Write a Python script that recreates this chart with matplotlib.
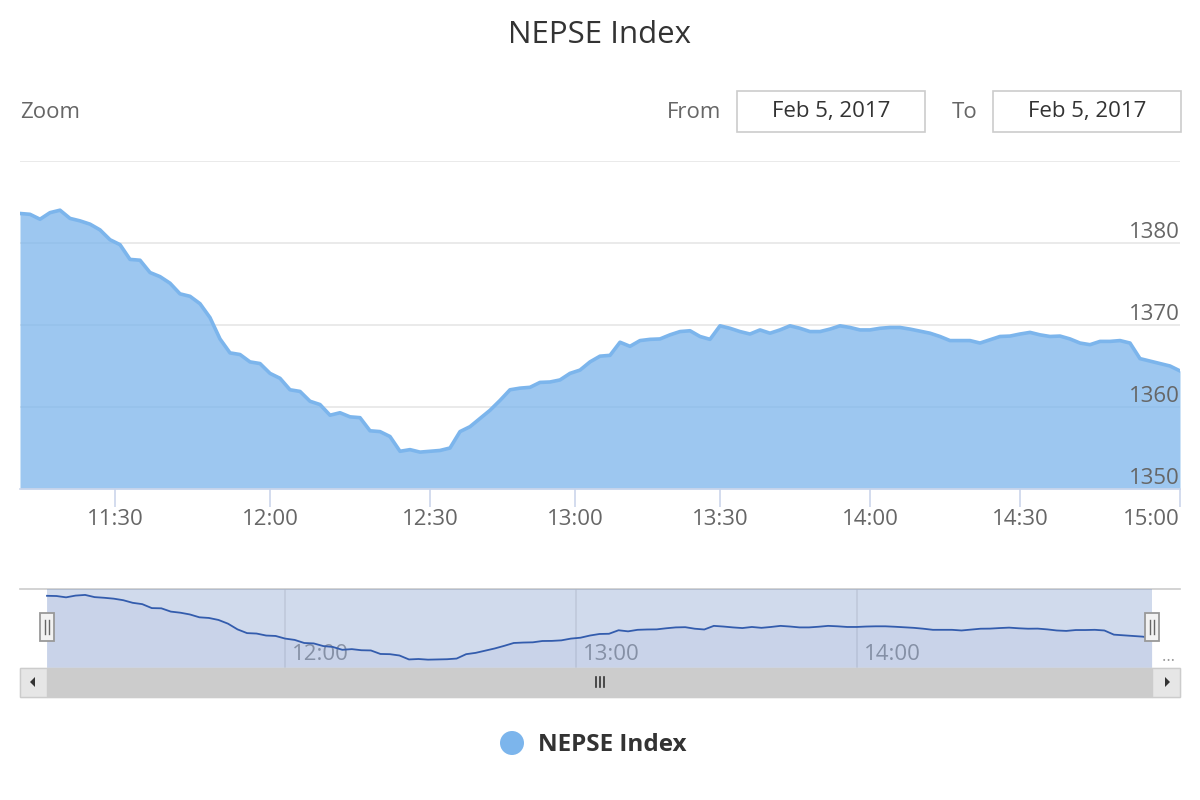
import numpy as np
import matplotlib
matplotlib.use("Agg")
import matplotlib.pyplot as plt
from matplotlib.patches import Rectangle, Circle, Polygon
import matplotlib.transforms as mtransforms

plt.rcParams['font.family'] = ['Open Sans', 'DejaVu Sans']

# ---------------- data ----------------
title = "NEPSE Index"
series_name = "NEPSE Index"
date_from = "Feb 5, 2017"
date_to = "Feb 5, 2017"

times = [
    "11:12", "11:14", "11:16", "11:18", "11:19", "11:21", "11:23", "11:25", "11:27", "11:29",
    "11:31", "11:33", "11:35", "11:37", "11:39", "11:41", "11:43", "11:45", "11:47", "11:49",
    "11:51", "11:53", "11:55", "11:56", "11:58",
    "12:00", "12:02", "12:04", "12:06", "12:08", "12:10", "12:12", "12:13", "12:15", "12:17",
    "12:19", "12:21", "12:23", "12:25", "12:27", "12:28",
    "12:30", "12:32", "12:34", "12:37", "12:39", "12:41", "12:43", "12:45", "12:47", "12:49",
    "12:51", "12:53", "12:55", "12:57", "12:59",
    "13:01", "13:03", "13:05", "13:07", "13:09", "13:11", "13:13", "13:16", "13:18", "13:20",
    "13:22", "13:24", "13:26", "13:28", "13:30",
    "13:32", "13:34", "13:36", "13:38", "13:40", "13:42", "13:44", "13:46", "13:48", "13:50",
    "13:52", "13:54", "13:56", "13:58",
    "14:00", "14:02", "14:04", "14:06", "14:08", "14:10", "14:12", "14:14", "14:16", "14:18",
    "14:20", "14:22", "14:24", "14:26", "14:28", "14:30",
    "14:32", "14:33", "14:35", "14:37", "14:39", "14:41", "14:43", "14:45", "14:47", "14:49",
    "14:51", "14:52", "14:54", "14:56", "14:58", "15:00",
]

values = [
    1383.6, 1383.5, 1382.9, 1383.7, 1384.0, 1383.0, 1382.7, 1382.3, 1381.6, 1380.4,
    1379.8, 1378.0, 1377.9, 1376.4, 1375.9, 1375.1, 1373.8, 1373.5, 1372.6, 1370.9,
    1368.3, 1366.6, 1366.4, 1365.5, 1365.3,
    1364.1, 1363.5, 1362.1, 1361.9, 1360.7, 1360.3, 1359.0, 1359.3, 1358.8, 1358.7,
    1357.1, 1357.0, 1356.4, 1354.6, 1354.8, 1354.5,
    1354.6, 1354.7, 1355.0, 1357.0, 1357.6, 1358.6, 1359.6, 1360.8, 1362.1, 1362.3,
    1362.4, 1363.0, 1363.05, 1363.3, 1364.1,
    1364.5, 1365.5, 1366.2, 1366.3, 1367.9, 1367.4, 1368.1, 1368.25, 1368.3, 1368.8,
    1369.2, 1369.3, 1368.6, 1368.25, 1369.9,
    1369.6, 1369.2, 1368.9, 1369.4, 1369.0, 1369.4, 1369.9, 1369.6, 1369.2, 1369.2,
    1369.5, 1369.9, 1369.7, 1369.4,
    1369.4, 1369.6, 1369.7, 1369.7, 1369.5, 1369.25, 1369.0, 1368.6, 1368.1, 1368.1,
    1368.1, 1367.8, 1368.2, 1368.6, 1368.65, 1368.9,
    1369.1, 1368.8, 1368.6, 1368.65, 1368.3, 1367.8, 1367.6, 1368.0, 1368.0, 1368.1,
    1367.8, 1365.9, 1365.6, 1365.3, 1365.0, 1364.4,
]

xtick_labels = ["11:30", "12:00", "12:30", "13:00", "13:30", "14:00", "14:30", "15:00"]
ytick_values = [1350, 1360, 1370, 1380]
grid_values = [1360, 1370, 1380, 1390]
nav_tick_labels = ["12:00", "13:00", "14:00"]


def to_min(s):
    h, m = s.split(":")
    return int(h) * 60 + int(m)


t_min = np.array([to_min(t) for t in times], dtype=float)
idx = np.arange(len(values), dtype=float)
vals = np.array(values)
xtick_pos = np.interp([to_min(s) for s in xtick_labels], t_min, idx)
nav_tick_pos = np.interp([to_min(s) for s in nav_tick_labels], t_min, idx)

# ---------------- figure ----------------
W, H = 1200, 800
fig = plt.figure(figsize=(12, 8), dpi=100)
fig.patch.set_facecolor("white")


def rect_fig(l, t, r, b):
    return [l / W, 1 - b / H, (r - l) / W, (b - t) / H]


# main plot
ax = fig.add_axes(rect_fig(20, 161, 1180, 489))
ax.set_xlim(0, len(values) - 1)
ax.set_ylim(1350, 1390)
for v in grid_values:
    ax.axhline(v, color="#e6e6e6", lw=1.2, zorder=1)
ax.fill_between(idx, vals, 1350, color="#7cb5ec", alpha=0.75, lw=0, zorder=2)
ax.plot(idx, vals, color="#7cb5ec", lw=2.6, zorder=3, solid_joinstyle="round")
for s in ["top", "left", "right"]:
    ax.spines[s].set_visible(False)
ax.spines["bottom"].set_color("#ccd6eb")
ax.spines["bottom"].set_linewidth(1.2)
ax.spines["bottom"].set_zorder(4)
ax.set_yticks([])
ax.set_xticks(xtick_pos)
ax.set_xticklabels(xtick_labels)
ax.tick_params(axis="x", length=13, width=1.2, color="#ccd6eb",
               labelcolor="#666666", labelsize=16, pad=1.5)
ax.get_xticklabels()[-1].set_horizontalalignment("right")
ytrans = mtransforms.offset_copy(ax.get_yaxis_transform(), fig=fig, x=0, y=5, units="dots")
for v in ytick_values:
    ax.text(1.0, v, f"{v}", transform=ytrans, ha="right", va="baseline",
            fontsize=16, color="#666666", zorder=5)

# navigator
nav = fig.add_axes(rect_fig(20, 589, 1180, 668))
n = len(values) - 1
px_per = (1152 - 47) / n
nav.set_xlim(-(47 - 20) / px_per, n + (1180 - 1152) / px_per)
nav.set_ylim(1350.7, 1386.7)
nav.set_facecolor("white")
for p in nav_tick_pos:
    nav.axvline(p, color="#e6e6e6", lw=1.2, zorder=1)
ntrans = mtransforms.offset_copy(nav.get_xaxis_transform(), fig=fig, x=7, y=0, units="dots")
for p, lab in zip(nav_tick_pos, nav_tick_labels):
    nav.text(p, 0.17, lab, transform=ntrans, ha="left", va="center",
             fontsize=16, color="#999999", zorder=2)
nav.fill_between(idx, vals, 1350.7, color="#335cad", alpha=0.05, lw=0, zorder=2)
nav.axvspan(0, n, color=(102 / 255, 133 / 255, 194 / 255), alpha=0.3, lw=0, zorder=3)
nav.plot(idx, vals, color="#335cad", lw=1.3, zorder=4)
for s in ["bottom", "left", "right"]:
    nav.spines[s].set_visible(False)
nav.spines["top"].set_color("#cccccc")
nav.spines["top"].set_linewidth(1.2)
nav.set_xticks([])
nav.set_yticks([])

# handle positions from navigator scale
fig.canvas.draw()
hx = [nav.transData.transform((i, 1360))[0] for i in (0, n)]

# overlay for chrome
ov = fig.add_axes([0, 0, 1, 1])
ov.set_xlim(0, W)
ov.set_ylim(H, 0)
ov.axis("off")
ov.patch.set_alpha(0)

ov.text(600, 35, title, ha="center", va="center", fontsize=22.5, color="#333333")
ov.text(20, 113, "Zoom", ha="left", va="center", fontsize=16, color="#666666")
ov.text(721, 112, "From", ha="right", va="center", fontsize=16, color="#666666")
ov.text(978, 112, "To", ha="right", va="center", fontsize=16, color="#666666")
for x0, txt in [(737, date_from), (993, date_to)]:
    ov.add_patch(Rectangle((x0, 91), 188, 41, fc="white", ec="#cccccc", lw=1.2))
    ov.text(x0 + 94, 112, txt, ha="center", va="center", fontsize=16, color="#333333")

ov.text(1168, 657, "\u2026", ha="center", va="center", fontsize=12, color="#999999")

# scrollbar
ov.add_patch(Rectangle((20, 668), 1160, 29, fc="#f2f2f2", ec="#e6e6e6", lw=1))
ov.add_patch(Rectangle((hx[0], 668), hx[1] - hx[0], 29, fc="#cccccc", ec="#cccccc", lw=1))
ov.add_patch(Rectangle((20, 668), 27, 29, fc="#e6e6e6", ec="#cccccc", lw=1))
ov.add_patch(Rectangle((1152, 668), 28, 29, fc="#e6e6e6", ec="#cccccc", lw=1))
ov.add_patch(Polygon([(30, 682), (35, 677), (35, 687)], closed=True, fc="#333333", ec="none"))
ov.add_patch(Polygon([(1170, 682), (1165, 677), (1165, 687)], closed=True, fc="#333333", ec="none"))
mid = (hx[0] + hx[1]) / 2
for dx in (-4, 0, 4):
    ov.plot([mid + dx, mid + dx], [677, 687], color="#333333", lw=1.2)

# handles
for cx in hx:
    ov.add_patch(Rectangle((cx - 7, 613), 14, 28, fc="#f2f2f2", ec="#999999", lw=1.3))
    for dx in (-2, 2):
        ov.plot([cx + dx, cx + dx], [620, 634], color="#666666", lw=1)

# legend
ov.add_patch(Circle((512, 743), 12, fc="#7cb5ec", ec="none"))
ov.text(538, 745, series_name, ha="left", va="center", fontsize=17.5,
        fontweight="bold", color="#333333")

fig.savefig("out.png", dpi=100, facecolor="white")
